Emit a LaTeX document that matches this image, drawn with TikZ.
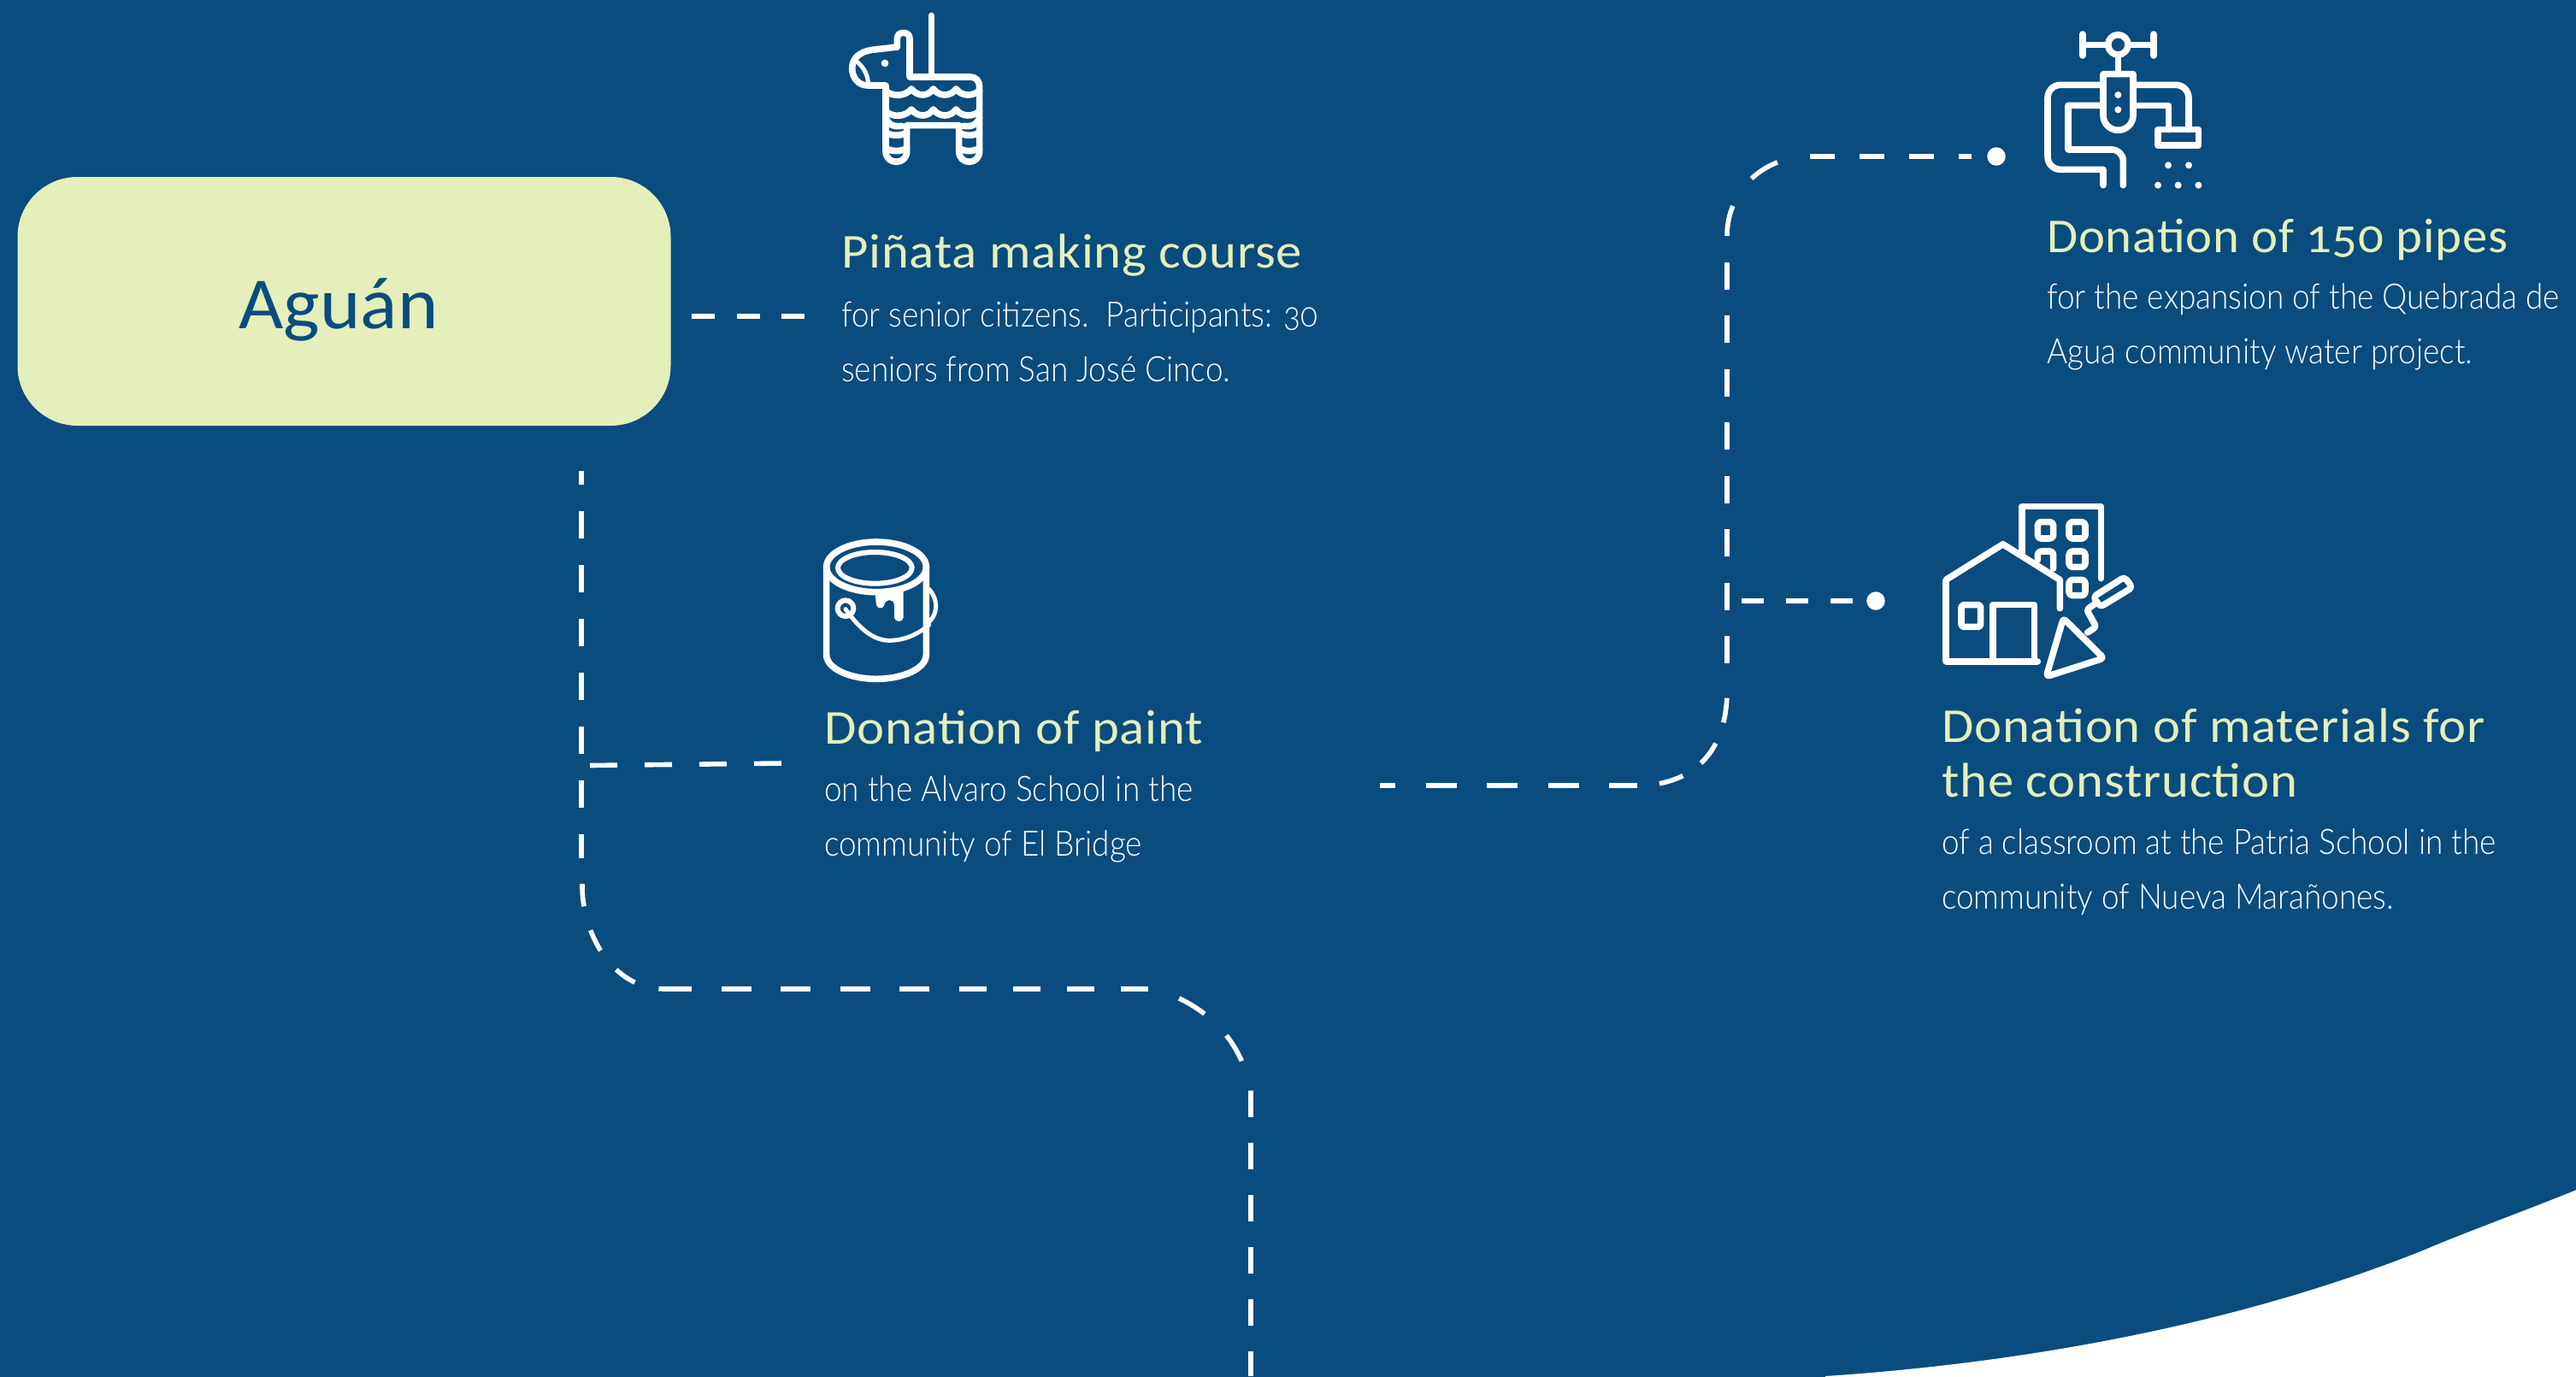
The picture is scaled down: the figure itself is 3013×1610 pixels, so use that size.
\documentclass[tikz,border=0pt]{standalone}
\usepackage{fontspec}
\setmainfont{Carlito}
\newfontfamily\titlef[FakeStretch=1.065,LetterSpace=1.5,Numbers=OldStyle]{Carlito}
\newfontfamily\titlefnum[FakeStretch=1.03,LetterSpace=1.5,Numbers=OldStyle]{Carlito}
\newfontfamily\labelf[FakeStretch=1.05]{Carlito}
\newfontfamily\bodyf[FakeStretch=0.9,Numbers=OldStyle]{Lato Light}
\definecolor{navy}{RGB}{10,76,126}
\definecolor{lime}{RGB}{228,239,187}
\tikzset{
  conn/.style={draw=white,line width=5.6pt,line cap=butt},
  dotnode/.style={circle,fill=white,minimum size=21.5pt,inner sep=0pt},
  titletext/.style={text=lime,inner sep=0pt,align=left,font=\titlef\fontsize{57}{64}\selectfont},
  bodytext/.style={text=white,inner sep=0pt,align=left,font=\bodyf\fontsize{41}{64}\selectfont},
  ico/.style={draw=white,line cap=round,line join=round},
}
\begin{document}
\begin{tikzpicture}[x=1pt,y=-1pt]
\useasboundingbox (0,0) rectangle (3013,1610);
\fill[navy] (-3,-3) rectangle (3016,1613);
\fill[white] (2135,1613) -- (2135,1610) .. controls (2330,1597) and (2590,1560) .. (2834,1463)
  .. controls (2880,1443) and (2950,1418) .. (3016,1391) -- (3016,1613) -- cycle;

% main box
\node[fill=lime,rounded corners=70pt,minimum width=764pt,minimum height=291pt,inner sep=0pt] (box) at (402.5,352.5) {};
\node[text=navy,inner sep=0pt,anchor=base,font=\labelf\fontsize{86}{90}\selectfont] (boxlabel) at (396,384) {Aguán};

% text
\node[titletext,anchor=base west] (t1) at (984,313) {Piñata making course};
\node[bodytext,anchor=base west] (b1) at (984,446) {for senior citizens.\ \ Participants: 30\\seniors from San José Cinco.};
\node[titletext,anchor=base west] (t2) at (964,870) {Donation of paint};
\node[bodytext,anchor=base west] (b2) at (964,1001) {on the Alvaro School in the\\community of El Bridge};
\node[titletext,anchor=base west,font=\titlefnum\fontsize{57}{64}\selectfont] (t3) at (2394,295) {Donation of 150 pipes};
\node[bodytext,anchor=base west] (b3) at (2394,425) {for the expansion of the Quebrada de\\Agua community water project.};
\node[titletext,anchor=base west] (t4) at (2271,932) {Donation of materials for\\the construction};
\node[bodytext,anchor=base west] (b4) at (2271,1063) {of a classroom at the Patria School in the\\community of Nueva Marañones.};

% dots
\node[dotnode] (dotA) at (2335,183) {};
\node[dotnode] (dotB) at (2194,703) {};

% connector coordinates
\coordinate (a0) at (809,370); \coordinate (a1) at (941,370);
\coordinate (c0) at (680,551); \coordinate (c1) at (680,1004);
\coordinate (c2) at (681,1034); \coordinate (c3) at (777,1157);
\coordinate (c4) at (1154,1157); \coordinate (c5) at (1185,1157); \coordinate (c6) at (1344,1157);
\coordinate (c7) at (1379,1168); \coordinate (c8) at (1462,1276);
\coordinate (c9) at (1463,1276); \coordinate (c10) at (1463,1610);
\coordinate (d0) at (690,895.5); \coordinate (d1) at (915,893);
\coordinate (e0) at (1614,919); \coordinate (e1) at (1915,919);
\coordinate (e2) at (2020,808); \coordinate (e3) at (2020,776); \coordinate (e4) at (2020,307);
\coordinate (e5) at (2020,276); \coordinate (e6) at (2117,183); \coordinate (e7) at (2306,183);
\coordinate (f0) at (2037,703); \coordinate (f1) at (2168,703);

\draw[conn,line width=6pt,dash pattern=on 27pt off 25.5pt] (a0) -- (a1);
\draw[conn,dash pattern=on 32pt off 31pt,dash phase=16pt] (c0) -- (c1);
\draw[conn,dash pattern=on 26.5pt off 29pt] (c2) .. controls (680,1090) and (715,1157) .. (c3);
\draw[conn,dash pattern=on 35pt off 34.5pt,dash phase=3pt] (c3) -- (c4);
\draw[conn,dash pattern=on 32pt off 31pt] (c5) -- (c6);
\draw[conn,dash pattern=on 35pt off 36pt] (c7) .. controls (1420,1187) and (1455,1225) .. (c8);
\draw[conn,dash pattern=on 31pt off 30pt] (c9) -- (c10);
\draw[conn,dash pattern=on 32pt off 32pt] (d0) -- (d1);
\draw[conn,dash pattern=on 36pt off 35.5pt,dash phase=18pt] (e0) -- (e1);
\draw[conn,dash pattern=on 29pt off 26pt,dash phase=29pt] (e1) .. controls (1975,919) and (2020,885) .. (e2);
\draw[conn,dash pattern=on 32pt off 30.5pt] (e3) -- (e4);
\draw[conn,dash pattern=on 36pt off 39pt] (e5) .. controls (2020,225) and (2060,183) .. (e6);
\draw[conn,dash pattern=on 29pt off 29pt] (e6) -- (e7);
\draw[conn,dash pattern=on 26pt off 26pt] (f0) -- (f1);

% pinata
\begin{scope}[shift={(960,0)},x=0.33333pt,y=-0.33333pt,line width=7.6pt]
\draw[ico] (388,55) -- (388,270);
\draw[ico] (312,135) -- (312,270) -- (525,270) .. controls (545,270) and (557,285) .. (557,305) -- (557,530)
  .. controls (557,555) and (540,568) .. (521,568) .. controls (502,568) and (485,555) .. (485,530) -- (485,440) -- (302,440) -- (302,530)
  .. controls (302,555) and (285,568) .. (265,568) .. controls (245,568) and (228,555) .. (228,530) -- (228,300) -- (165,300)
  .. controls (130,300) and (110,270) .. (110,240) .. controls (110,205) and (135,182) .. (180,175) -- (268,165) -- (268,135)
  .. controls (268,122) and (278,115) .. (290,115) .. controls (302,115) and (312,122) .. (312,135);
\draw[ico,line width=5pt] (125,215) .. controls (150,235) and (165,260) .. (168,300);
\fill[white] (225,222) circle (13);
\foreach \yy in {0,72}{
\draw[ico] (228,318+\yy) .. controls (250,340+\yy) and (295,340+\yy) .. (318,312+\yy)
  .. controls (340,340+\yy) and (375,340+\yy) .. (395,312+\yy)
  .. controls (415,340+\yy) and (455,340+\yy) .. (475,312+\yy)
  .. controls (495,340+\yy) and (535,338+\yy) .. (557,318+\yy);}
\draw[ico] (228,415) .. controls (240,440) and (255,445) .. (285,442);
\draw[ico] (557,415) .. controls (545,440) and (530,445) .. (500,442);
\draw[ico] (228,465) .. controls (250,478) and (280,478) .. (302,465);
\draw[ico] (485,465) .. controls (507,478) and (535,478) .. (557,465);
\draw[ico] (228,520) .. controls (250,533) and (280,533) .. (302,520);
\draw[ico] (485,520) .. controls (507,533) and (535,533) .. (557,520);
\end{scope}

% bucket
\begin{scope}[shift={(940,611)},x=0.33333pt,y=-0.33333pt,line width=7.6pt]
\draw[ico] (255,157) ellipse [x radius=175,y radius=88];
\draw[ico,line width=6pt] (250,160) ellipse [x radius=130,y radius=55];
\draw[ico] (80,157) -- (80,465) .. controls (80,515) and (165,550) .. (255,550) .. controls (345,550) and (430,515) .. (430,465) -- (430,157);
\fill[white] (250,245) -- (255,290) .. controls (258,305) and (280,305) .. (283,290) .. controls (285,270) and (315,265) .. (318,290) -- (318,335) .. controls (320,352) and (348,352) .. (350,335) -- (350,235) -- cycle;
\draw[ico,line width=6pt] (147,302) circle (28);
\draw[ico,line width=5pt] (147,305) .. controls (200,380) and (250,415) .. (300,415) .. controls (350,415) and (400,395) .. (440,360);
\draw[ico,line width=5pt] (440,235) .. controls (472,270) and (472,320) .. (440,350);
\end{scope}

% tap
\begin{scope}[shift={(2370,20)},x=0.33333pt,y=-0.33333pt,line width=7.6pt]
\draw[ico] (198,60) -- (198,135);
\draw[ico] (447,60) -- (447,135);
\draw[ico] (198,97) -- (287,97);
\draw[ico] (357,97) -- (447,97);
\draw[ico] (322,97) circle (35);
\draw[ico] (322,132) -- (322,200);
\draw[ico] (270,200) -- (375,200) -- (375,345) .. controls (375,375) and (350,397) .. (322,397) .. controls (295,397) and (270,375) .. (270,345) -- cycle;
\fill[white] (322,273) circle (12) (322,325) circle (12);
\draw[ico] (270,238) -- (120,238) .. controls (95,238) and (75,258) .. (75,285) -- (75,490) .. controls (75,515) and (95,535) .. (120,535) -- (270,535) -- (270,590);
\draw[ico] (270,310) -- (147,310) -- (147,465) -- (300,465) .. controls (322,465) and (340,483) .. (340,505) -- (340,590);
\draw[ico] (375,238) -- (525,238) .. controls (550,238) and (570,258) .. (570,285) -- (570,395);
\draw[ico] (375,310) -- (500,310) -- (500,395);
\draw[ico] (462,395) rectangle (605,450);
\fill[white] (498,520) circle (12) (570,520) circle (12) (462,590) circle (12) (533,590) circle (12) (604,590) circle (12);
\end{scope}

% house
\begin{scope}[shift={(2250,570)},x=0.33333pt,y=-0.33333pt,line width=7.6pt]
\draw[ico] (478,425) -- (478,325) -- (278,200) -- (78,325) -- (78,612) -- (400,612);
\draw[ico] (243,612) -- (243,413) -- (388,413) -- (388,612);
\draw[ico,rounded corners=3pt] (132,413) rectangle (200,490);
\draw[ico] (345,235) -- (345,68) -- (622,68) -- (622,320);
\draw[ico,rounded corners=4pt] (400,122) rectangle (455,180);
\draw[ico,rounded corners=4pt] (510,122) rectangle (567,180);
\draw[ico,rounded corners=4pt] (400,255) -- (400,225) -- (455,225) -- (455,285);
\draw[ico,rounded corners=4pt] (510,225) rectangle (567,280);
\draw[ico,rounded corners=4pt] (510,325) rectangle (567,380);
\draw[ico,rounded corners=4pt] (490,460) -- (632,600) -- (430,665) -- cycle;
\draw[ico,rounded corners=3pt] (575,510) -- (605,490) -- (572,430) -- (600,410);
\draw[ico,rounded corners=4pt] (595,385) -- (705,315) -- (732,352) -- (620,420) -- cycle;
\end{scope}
\end{tikzpicture}
\end{document}
